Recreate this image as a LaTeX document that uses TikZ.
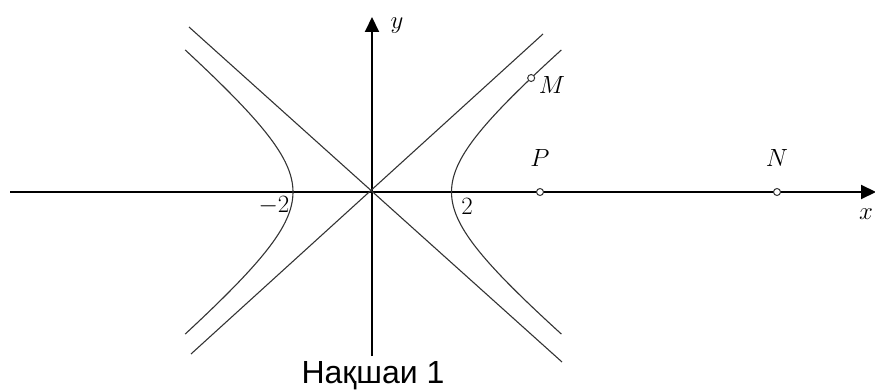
\documentclass[tikz,border=0pt]{standalone}
\usepackage{fontspec}
\newfontfamily\capfont{Liberation Sans}
\usetikzlibrary{arrows.meta}
\tikzset{
  axis/.style={line width=2pt, -{Triangle[length=15pt,width=14pt]}},
  curve/.style={line width=1.1pt, draw=black!80},
  dot/.style={circle, draw=black!80, fill=white, line width=1pt, inner sep=0pt, minimum size=7pt},
  lbl/.style={font=\fontsize{28}{32}\selectfont, inner sep=0pt},
}
\begin{document}
\begin{tikzpicture}[x=1pt,y=-1pt]
\useasboundingbox (0,0) rectangle (875,390);
% axes
\coordinate (O) at (371.5,192);
\coordinate (xs) at (10,192);
\coordinate (xe) at (876,192);
\coordinate (ys) at (372,356);
\coordinate (ye) at (372,17);
\draw[axis] (xs) -- (xe);
\draw[axis] (ys) -- (ye);
% asymptotes
\coordinate (a1) at (191,354);
\coordinate (a2) at (543,34);
\coordinate (a3) at (189,27);
\coordinate (a4) at (562,362);
\draw[curve] (a1) -- (a2);
\draw[curve] (a3) -- (a4);
% hyperbola branches
\draw[curve] plot[domain=-1.51:1.51, samples=80, variable=\t] ({371.5+80*cosh(\t)},{192-66*sinh(\t)});
\draw[curve] plot[domain=-1.51:1.51, samples=80, variable=\t] ({371.5-78.5*cosh(\t)},{192-66*sinh(\t)});
% points
\node[dot] (M) at ({371.5+80*cosh(1.3146)},{192-66*sinh(1.3146)}) {};
\node[dot] (P) at (540,192) {};
\node[dot] (N) at (777,192) {};
% labels
\node[lbl] (Ml) at (552,85) {$M$};
\node[lbl] (Pl) at (540,158) {$P$};
\node[lbl] (Nl) at (777,158) {$N$};
\node[lbl] (xl) at (866,214) {$x$};
\node[lbl] (yl) at (397,26) {$y$};
\node[lbl] (two) at (467,206) {$2$};
\node[lbl] (mtwo) at (274,206) {$-2$};
\node[font=\capfont\fontsize{32}{36}\selectfont, inner sep=0pt, anchor=base] (cap) at (373,383) {Нақшаи 1};
\end{tikzpicture}
\end{document}
